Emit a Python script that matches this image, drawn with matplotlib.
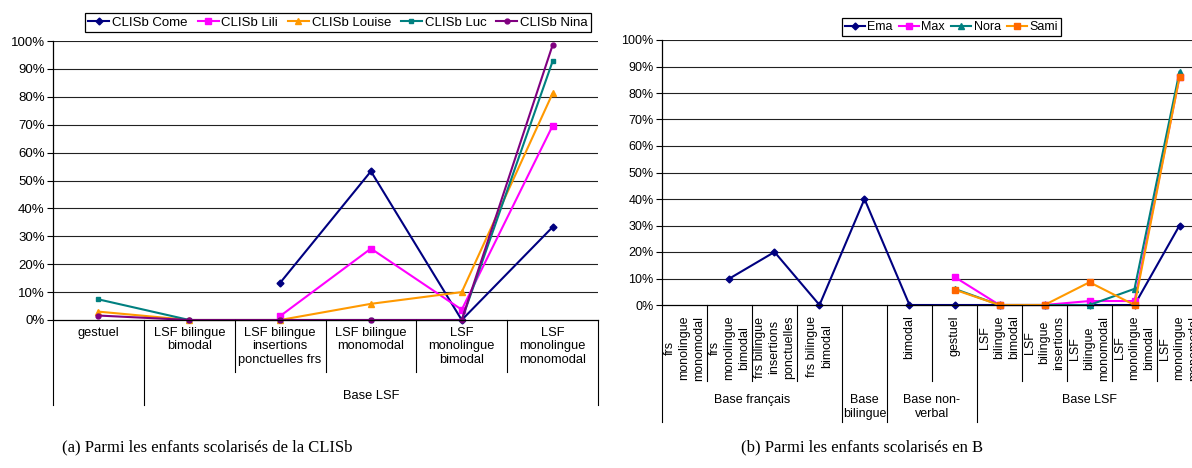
import matplotlib
matplotlib.use("Agg")
import matplotlib.pyplot as plt
import numpy as np

plt.rcParams['font.family'] = ['Liberation Sans', 'DejaVu Sans']

nan = np.nan

# (a) CLISb
cats_a = ["gestuel", "LSF bilingue\nbimodal", "LSF bilingue\ninsertions\nponctuelles frs",
          "LSF bilingue\nmonomodal", "LSF\nmonolingue\nbimodal", "LSF\nmonolingue\nmonomodal"]
groups_a = [("", 1), ("Base LSF", 5)]
come = [nan, nan, 13.3, 53.3, 0, 33.3]
lili = [nan, nan, 1.4, 25.6, 3.7, 69.6]
louise = [3.0, 0, 0, 5.8, 10.0, 81.2]
luc = [7.4, 0, 0, 0, 0, 92.7]
nina = [1.6, 0, 0, 0, 0, 98.5]

# (b) B
cats_b = ["frs\nmonolingue\nmonomodal", "frs\nmonolingue\nbimodal",
          "frs bilingue\ninsertions\nponctuelles", "frs bilingue\nbimodal", "",
          "bimodal", "gestuel", "LSF\nbilingue\nbimodal", "LSF\nbilingue\ninsertions",
          "LSF\nbilingue\nmonomodal", "LSF\nmonolingue\nbimodal", "LSF\nmonolingue\nmonomodal"]
groups_b = [("Base français", 4), ("Base\nbilingue", 1), ("Base non-\nverbal", 2), ("Base LSF", 5)]
ema = [nan, 10, 20, 0, 40, 0, 0, 0, 0, 0, 0, 30]
maxx = [nan, nan, nan, nan, nan, nan, 10.6, 0, 0, 1.5, 1.5, 86.0]
nora = [nan, nan, nan, nan, nan, nan, 6.1, 0, 0, 0, 6.1, 88.0]
sami = [nan, nan, nan, nan, nan, nan, 5.8, 0, 0, 8.6, 0, 86.0]


def base_axes(ax, n, fs):
    ax.set_xlim(-0.5, n - 0.5)
    ax.set_ylim(0, 1)
    ax.set_yticks(np.arange(0, 1.01, 0.1))
    ax.set_yticklabels(["%d%%" % round(v * 100) for v in np.arange(0, 1.01, 0.1)], fontsize=fs)
    ax.tick_params(axis='y', direction='out', length=4, width=0.8, pad=2)
    ax.tick_params(axis='x', bottom=False, labelbottom=False)
    for s in ['top', 'right']:
        ax.spines[s].set_visible(False)
    ax.spines['left'].set_linewidth(0.9)
    ax.spines['bottom'].set_linewidth(0.9)
    for v in np.arange(0.1, 1.01, 0.1):
        ax.axhline(v, color='#222222', lw=0.8, zorder=0)


def category_cells(ax, cats, groups, lab_y, cell_bot, grp_bot, grp_y, fs, rotated, ls, gls):
    tr = ax.get_xaxis_transform()
    n = len(cats)
    for i, lab in enumerate(cats):
        ax.text(i, lab_y, lab, transform=tr, rotation=90 if rotated else 0,
                ha='center', va='top', multialignment='center', fontsize=fs, linespacing=ls)
    edges = [-0.5]
    pos = -0.5
    for name, k in groups:
        pos += k
        edges.append(pos)
    for i in range(n - 1):
        b = i + 0.5
        if b not in edges:
            ax.plot([b, b], [0, cell_bot], transform=tr, color='black', lw=0.8, clip_on=False)
    for b in edges:
        ax.plot([b, b], [0, grp_bot], transform=tr, color='black', lw=0.8, clip_on=False)
    start = -0.5
    for name, k in groups:
        ax.text(start + k / 2.0, grp_y, name, transform=tr, ha='center', va='top',
                multialignment='center', fontsize=fs, linespacing=gls)
        start += k


fig = plt.figure(figsize=(11.92, 4.68), dpi=100)

# ---- left chart
ax1 = fig.add_axes([53 / 1192, 1 - 320 / 468, 545 / 1192, 279 / 468])
base_axes(ax1, len(cats_a), 9.5)
xa = np.arange(len(cats_a))
ax1.plot(xa, np.array(come) / 100, color='#000080', marker='D', ms=3.5, lw=1.5, label='CLISb Come')
ax1.plot(xa, np.array(lili) / 100, color='#FF00FF', marker='s', ms=4, lw=1.5, label='CLISb Lili')
ax1.plot(xa, np.array(louise) / 100, color='#FF9900', marker='^', ms=4, lw=1.5, label='CLISb Louise')
ax1.plot(xa, np.array(luc) / 100, color='#008080', marker='s', ms=3.5, lw=1.5, label='CLISb Luc')
ax1.plot(xa, np.array(nina) / 100, color='#800080', marker='o', ms=3.5, lw=1.5, label='CLISb Nina')
for l in ax1.lines[-5:]:
    l.set_clip_on(False)
category_cells(ax1, cats_a, groups_a, -0.025, -0.185, -0.305, -0.25, 9.3, False, 1.15, 1.15)
leg = ax1.legend(loc='center', bbox_to_anchor=(0.523, 1.066), ncol=5, fontsize=9.5,
                 frameon=True, fancybox=False, edgecolor='black', framealpha=1,
                 handlelength=1.6, handletextpad=0.2, columnspacing=0.75, borderpad=0.25,
                 borderaxespad=0)
leg.get_frame().set_linewidth(0.9)

# ---- right chart
ax2 = fig.add_axes([662 / 1192, 1 - 305 / 468, 540 / 1192, 265 / 468])
base_axes(ax2, len(cats_b), 9)
xb = np.arange(len(cats_b))
ax2.plot(xb, np.array(ema) / 100, color='#000080', marker='D', ms=3.5, lw=1.5, label='Ema')
ax2.plot(xb, np.array(maxx) / 100, color='#FF00FF', marker='s', ms=4, lw=1.5, label='Max')
ax2.plot(xb, np.array(nora) / 100, color='#008080', marker='^', ms=4, lw=1.5, label='Nora')
ax2.plot(xb, np.array(sami) / 100, color='#FF9900', marker='s', ms=4, mfc='#FF6600',
         mec='#FF6600', lw=1.5, label='Sami')
for l in ax2.lines[-4:]:
    l.set_clip_on(False)
category_cells(ax2, cats_b, groups_b, -0.04, -0.287, -0.44, -0.335, 9, True, 1.3, 1.3)
leg2 = ax2.legend(loc='center', bbox_to_anchor=(0.536, 1.049), ncol=4, fontsize=9,
                  frameon=True, fancybox=False, edgecolor='black', framealpha=1,
                  handlelength=1.6, handletextpad=0.2, columnspacing=0.5, borderpad=0.25,
                  borderaxespad=0)
leg2.get_frame().set_linewidth(0.9)

# captions
fig.text(207 / 1192, 1 - 447 / 468, "(a) Parmi les enfants scolarisés de la CLISb",
         family=['Liberation Serif', 'DejaVu Serif'], fontsize=12, ha='center', va='center')
fig.text(862 / 1192, 1 - 447 / 468, "(b) Parmi les enfants scolarisés en B",
         family=['Liberation Serif', 'DejaVu Serif'], fontsize=12, ha='center', va='center')

fig.savefig("out.png", dpi=100)
